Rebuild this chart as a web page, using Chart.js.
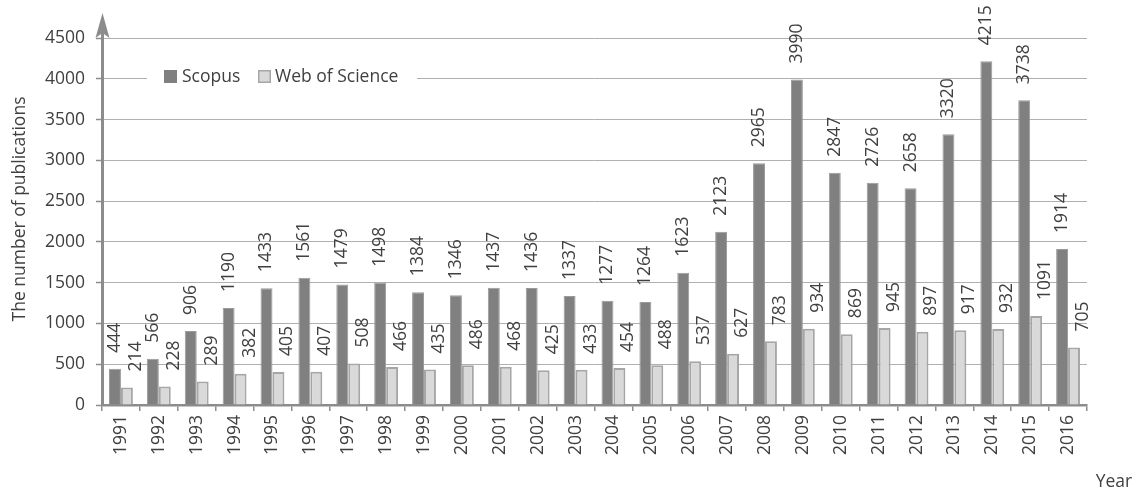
<!DOCTYPE html>
<html>
<head>
<meta charset="utf-8">
<script src="https://cdn.jsdelivr.net/npm/chart.js@4/dist/chart.umd.min.js"></script>
<style>
html,body{margin:0;padding:0;background:#fff;}
#wrap{width:1139px;height:488px;position:relative;}
</style>
</head>
<body>
<div id="wrap"><canvas id="c"></canvas></div>
<script>
const years = ['1991','1992','1993','1994','1995','1996','1997','1998','1999','2000','2001','2002','2003','2004','2005','2006','2007','2008','2009','2010','2011','2012','2013','2014','2015','2016'];
const scopus = [444,566,906,1190,1433,1561,1479,1498,1384,1346,1437,1436,1337,1277,1264,1623,2123,2965,3990,2847,2726,2658,3320,4215,3738,1914];
const wos = [214,228,289,382,405,407,508,466,435,486,468,425,433,454,488,537,627,783,934,869,945,897,917,932,1091,705];
const yTicks = [0,500,1000,1500,2000,2500,3000,3500,4000,4500];
const seriesNames = ['Scopus','Web of Science'];
const yTitle = 'The number of publications';
const xTitle = 'Year';

const FONT = '"Open Sans", sans-serif';
const TXT = '#404040';
const AXIS = '#8c8c8c';

const extras = {
  id: 'extras',
  beforeDatasetsDraw(chart) {
    const ctx = chart.ctx;
    ctx.save();
    ctx.fillStyle = '#fff';
    ctx.fillRect(147, 64, 270, 28);
    const items = [
      {x:164, fill:'#808080', stroke:'#808080', text:seriesNames[0], tx:182},
      {x:258, fill:'#d9d9d9', stroke:'#a6a6a6', text:seriesNames[1], tx:275}
    ];
    ctx.font = '17.5px ' + FONT;
    ctx.textBaseline = 'middle';
    ctx.textAlign = 'left';
    items.forEach(it => {
      ctx.fillStyle = it.fill;
      ctx.fillRect(it.x, 70, 13, 13);
      ctx.strokeStyle = it.stroke;
      ctx.lineWidth = 1.5;
      ctx.strokeRect(it.x + 0.75, 70.75, 11.5, 11.5);
      ctx.fillStyle = TXT;
      ctx.fillText(it.text, it.tx, 77);
    });
    ctx.restore();
  },
  afterDatasetsDraw(chart) {
    const ctx = chart.ctx;
    const area = chart.chartArea;
    ctx.save();
    ctx.strokeStyle = AXIS;
    ctx.fillStyle = AXIS;
    ctx.lineWidth = 3;
    ctx.beginPath();
    ctx.moveTo(area.left + 0.5, area.bottom + 1);
    ctx.lineTo(area.left + 0.5, 30);
    ctx.stroke();
    ctx.beginPath();
    ctx.moveTo(area.left + 0.5, 13);
    ctx.lineTo(area.left - 6.5, 38);
    ctx.lineTo(area.left + 0.5, 33);
    ctx.lineTo(area.left + 7.5, 38);
    ctx.closePath();
    ctx.fill();
    ctx.fillStyle = TXT;
    ctx.font = '17.5px ' + FONT;
    ctx.textBaseline = 'middle';
    ctx.textAlign = 'left';
    chart.data.datasets.forEach((ds, di) => {
      const meta = chart.getDatasetMeta(di);
      meta.data.forEach((el, i) => {
        const dx = di === 0 ? 0 : 9;
        ctx.save();
        ctx.translate(el.x + dx, el.y - 16);
        ctx.rotate(-Math.PI / 2);
        ctx.fillText(String(ds.data[i]), 0, 0);
        ctx.restore();
      });
    });
    ctx.font = '17.5px ' + FONT;
    ctx.textAlign = 'center';
    ctx.textBaseline = 'middle';
    ctx.save();
    ctx.translate(20, 209);
    ctx.rotate(-Math.PI / 2);
    ctx.fillText(yTitle, 0, 0);
    ctx.restore();
    ctx.textBaseline = 'alphabetic';
    ctx.fillText(xTitle, 1114, 487);
    ctx.restore();
  }
};

new Chart(document.getElementById('c'), {
  type: 'bar',
  data: {
    labels: years,
    datasets: [
      {label: seriesNames[0], data: scopus, backgroundColor: '#808080', borderColor: '#9a9a9a', borderWidth: 1},
      {label: seriesNames[1], data: wos, backgroundColor: '#d9d9d9', borderColor: '#a6a6a6', borderWidth: 2}
    ]
  },
  options: {
    responsive: true,
    maintainAspectRatio: false,
    animation: false,
    layout: {padding: {top: 38, right: 52, left: 0, bottom: 0}},
    datasets: {bar: {categoryPercentage: 0.63, barPercentage: 1.0}},
    plugins: {legend: {display: false}, tooltip: {enabled: false}},
    scales: {
      x: {
        afterFit(s) { s.height = 83; },
        grid: {offset: true, drawOnChartArea: false, drawTicks: true, tickLength: 6, color: AXIS, tickColor: AXIS, lineWidth: 1.5},
        border: {display: true, color: AXIS, width: 2.5},
        ticks: {minRotation: 90, maxRotation: 90, autoSkip: false, padding: 4, color: TXT, font: {family: FONT, size: 17.5}}
      },
      y: {
        min: 0, max: 4500,
        afterFit(s) { s.width = 102; },
        afterBuildTicks(s) { s.ticks = yTicks.map(v => ({value: v})); },
        grid: {color: '#b0b0b0', lineWidth: 1, borderDash: [1, 1], drawTicks: true, tickLength: 6, tickColor: AXIS, tickWidth: 1.5, tickBorderDash: []},
        border: {display: false},
        ticks: {padding: 11, color: TXT, font: {family: FONT, size: 17.5}, callback: v => String(v)}
      }
    }
  },
  plugins: [extras]
});
</script>
</body>
</html>
